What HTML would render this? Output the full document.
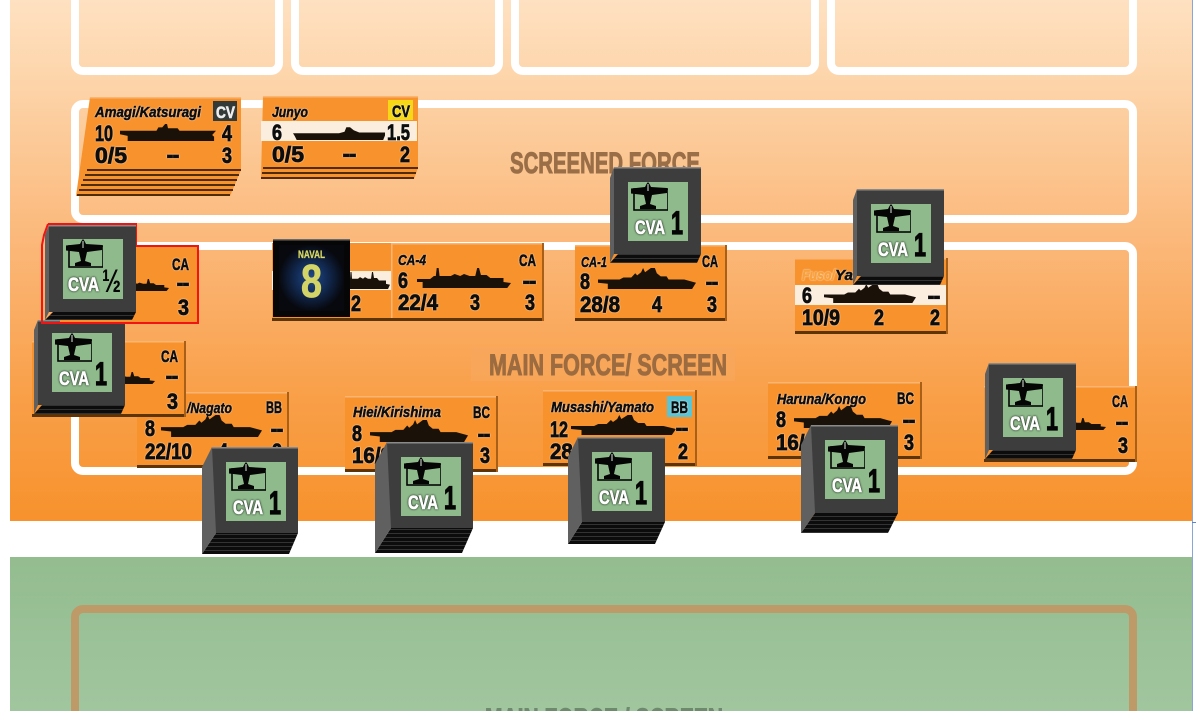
<!DOCTYPE html>
<html lang="en">
<head>
<meta charset="utf-8">
<title>Force Display</title>
<style>
html,body{margin:0;padding:0;background:#fff;width:1196px;height:711px;overflow:hidden}
svg{display:block}
text{font-family:"Liberation Sans",sans-serif;font-weight:bold}
.n,.c,.d,.t{fill:#0d0d0d;stroke:#0d0d0d;filter:drop-shadow(0 0 .7px rgba(255,255,255,.95))}
.n{font-size:22px;stroke-width:.8px}
.c{font-size:17px;stroke-width:.6px}
.d{font-size:18px;stroke-width:1.300px}
.t{font-size:15px;font-style:italic;stroke-width:.5px}
.h{font-size:30px;fill:#9a6f48;stroke:#9a6f48;stroke-width:1px}
.cva{font-size:19px;fill:#fff;stroke:#fff;stroke-width:.6px;filter:drop-shadow(0 0 1px #000)}
.one{font-size:32px;fill:#050505;stroke:#050505;stroke-width:1.200px}
</style>
</head>
<body>
<svg width="1196" height="711" viewBox="0 0 1196 711" xmlns="http://www.w3.org/2000/svg">
<defs>
<linearGradient id="og" x1="0" y1="0" x2="0" y2="1">
<stop offset="0" stop-color="#fee1c1"/><stop offset=".15" stop-color="#fdd5ab"/><stop offset=".46" stop-color="#fbb87a"/><stop offset=".75" stop-color="#f9a04a"/><stop offset="1" stop-color="#f7922d"/>
</linearGradient>
<linearGradient id="gg" x1="0" y1="0" x2="0" y2="1">
<stop offset="0" stop-color="#93bc8f"/><stop offset="1" stop-color="#a1c69f"/>
</linearGradient>
<radialGradient id="ng"><stop offset="0" stop-color="#1f4a8a"/><stop offset=".5" stop-color="#122a52"/><stop offset="1" stop-color="#07090f"/></radialGradient>
<pattern id="st" width="4" height="4" patternUnits="userSpaceOnUse"><rect width="4" height="4" fill="#0c0c0c"/><rect y="0" width="4" height="1" fill="#333"/></pattern>
<symbol id="cv" viewBox="0 0 100 20" preserveAspectRatio="none"><path fill="#1a1208" d="M0 8H38L40 4H44L47 0H49L50 5H60L62 8H100L96 13L98 15V20H8V14L0 12Z"/></symbol>
<symbol id="cvb" viewBox="0 0 100 20" preserveAspectRatio="none"><path fill="#1a1208" d="M0 11H50L56 9L58 3H62L66 7L72 10H100V14L98 20H4L2 15Z"/></symbol>
<symbol id="bb" viewBox="0 0 100 20" preserveAspectRatio="none"><path fill="#1a1208" d="M0 11H22L26 9H34L38 5L40 7L44 4L46 0L48 4L54 0H58L60 5L64 8H70L72 11H88L100 14L96 20H10V15L0 14Z"/></symbol>
<symbol id="ca" viewBox="0 0 100 20" preserveAspectRatio="none"><path fill="#1a1208" d="M0 11H14L18 8H20L21 0L23 0L24 8H36L40 6L46 8L50 6L56 8H62L64 0H66L68 7H74L78 10H92V14L100 15L96 20H6V14L0 14Z"/></symbol>
<symbol id="plane" viewBox="0 0 40 30" preserveAspectRatio="none">
<rect x="6" y="7" width="34" height="21" fill="none" stroke="#050505" stroke-width="1.600"/>
<path fill="#050505" d="M3 6.500L17 5L18.500 2L20 0L21.500 2L23 5L39 6V11L24 13L22 22L28 24V27H12V24L18 22L16 13L3 11.500Z"/>
<path fill="#dfe8de" d="M19.500 2h1v7h-1z"/>
</symbol>
</defs>

<rect x="10" y="0" width="1182" height="521" fill="url(#og)"/>
<rect x="10" y="557" width="1182" height="154" fill="url(#gg)"/>
<rect x="1192" y="0" width="1" height="711" fill="#8aa6d8"/>
<rect x="1192" y="522" width="4" height="1" fill="#5c84cc"/>

<g fill="none" stroke="#fff" stroke-width="8">
<path d="M75 0V63a8 8 0 0 0 8 8H271a8 8 0 0 0 8-8V0"/>
<path d="M295 0V63a8 8 0 0 0 8 8H491a8 8 0 0 0 8-8V0"/>
<path d="M515 0V63a8 8 0 0 0 8 8H807a8 8 0 0 0 8-8V0"/>
<path d="M831 0V63a8 8 0 0 0 8 8H1125a8 8 0 0 0 8-8V0"/>
<rect x="75" y="104" width="1058" height="115" rx="8"/>
<rect x="75" y="246" width="1058" height="225" rx="8"/>
</g>
<path d="M75 711V617a8 8 0 0 1 8-8H1125a8 8 0 0 1 8 8V711" fill="none" stroke="#bd9a68" stroke-width="8"/>

<text class="h" x="510" y="173" textLength="190" lengthAdjust="spacingAndGlyphs">SCREENED FORCE</text>
<rect x="471" y="347" width="264" height="34" fill="#f8a65c" opacity=".7"/>
<text class="h" x="489" y="375" textLength="238" lengthAdjust="spacingAndGlyphs" style="fill:#9c6c40;stroke:#9c6c40">MAIN FORCE/ SCREEN</text>
<svg x="470" y="700" width="270" height="11" viewBox="470 700 270 11" overflow="hidden">
<text class="h" x="485" y="729" textLength="238" lengthAdjust="spacingAndGlyphs" style="fill:#6d8a6c;stroke:#6d8a6c">MAIN FORCE / SCREEN</text>
</svg>

<!-- Amagi stack -->
<polygon points="90,97 241,97 241,170 230,196 76,196" fill="#f7922d"/>
<g stroke="#4f2c08" stroke-width="2">
<line x1="87" y1="170" x2="241" y2="170"/><line x1="85" y1="175" x2="239" y2="175"/><line x1="83" y1="180" x2="237" y2="180"/><line x1="81" y1="185" x2="235" y2="185"/><line x1="79" y1="190" x2="233" y2="190"/><line x1="77" y1="195" x2="230" y2="195"/>
</g>
<rect x="90" y="97" width="151" height="1.500" fill="#fbb573"/>
<rect x="213" y="101" width="24" height="20" fill="#333a38"/>
<text class="t" x="95" y="117" textLength="106" lengthAdjust="spacingAndGlyphs">Amagi/Katsuragi</text>
<text class="c" x="216" y="118" textLength="19" lengthAdjust="spacingAndGlyphs" style="fill:#eee;stroke:#eee;filter:none">CV</text>
<text class="n" x="95" y="141" textLength="18" lengthAdjust="spacingAndGlyphs">10</text>
<use href="#cv" x="120" y="124" width="96" height="17"/>
<text class="n" x="222" y="141" textLength="10" lengthAdjust="spacingAndGlyphs">4</text>
<text class="n" x="95" y="163" textLength="32" lengthAdjust="spacingAndGlyphs">0/5</text>
<text class="d" x="167" y="161" textLength="12" lengthAdjust="spacingAndGlyphs">--</text>
<text class="n" x="222" y="163" textLength="10" lengthAdjust="spacingAndGlyphs">3</text>

<!-- Junyo stack -->
<polygon points="263,96 418,96 418,168 414,179 261,179" fill="#f7922d"/>
<g stroke="#4f2c08" stroke-width="2">
<line x1="263" y1="168" x2="418" y2="168"/><line x1="262" y1="173" x2="416" y2="173"/><line x1="261" y1="178" x2="414" y2="178"/>
</g>
<rect x="263" y="96" width="155" height="1.500" fill="#fbb573"/>
<rect x="261" y="121" width="156" height="20" fill="#fbeedf"/>
<rect x="388" y="100" width="25" height="20" fill="#f7d716"/>
<text class="t" x="272" y="117" textLength="36" lengthAdjust="spacingAndGlyphs">Junyo</text>
<text class="c" x="392" y="117" textLength="18" lengthAdjust="spacingAndGlyphs">CV</text>
<text class="n" x="272" y="140" textLength="10" lengthAdjust="spacingAndGlyphs">6</text>
<use href="#cvb" x="293" y="125" width="92" height="15"/>
<text class="n" x="387" y="140" textLength="23" lengthAdjust="spacingAndGlyphs">1.5</text>
<text class="n" x="272" y="162" textLength="32" lengthAdjust="spacingAndGlyphs">0/5</text>
<text class="d" x="343" y="160" textLength="13" lengthAdjust="spacingAndGlyphs">--</text>
<text class="n" x="400" y="162" textLength="10" lengthAdjust="spacingAndGlyphs">2</text>

<!-- CA behind Naval -->
<rect x="272" y="243" width="119" height="78" fill="#f7922d"/>
<rect x="272" y="271" width="119" height="19" fill="#fbeedf"/>
<rect x="272" y="318" width="119" height="3" fill="#5c3409"/>
<use href="#ca" x="340" y="272" width="50" height="17"/>
<text class="n" x="351" y="311" textLength="10" lengthAdjust="spacingAndGlyphs">2</text>

<!-- CA-4 -->
<rect x="391" y="243" width="153" height="78" fill="#f7922d"/>
<rect x="391" y="243" width="153" height="1.500" fill="#fbb573"/><rect x="391" y="243" width="1.500" height="78" fill="#fbb573"/>
<rect x="391" y="318" width="153" height="3" fill="#5c3409"/><rect x="542" y="243" width="2" height="78" fill="#a85f17"/>
<text class="t" x="398" y="265" textLength="28" lengthAdjust="spacingAndGlyphs">CA-4</text>
<text class="c" x="519" y="266" textLength="17" lengthAdjust="spacingAndGlyphs">CA</text>
<text class="n" x="398" y="288" textLength="10" lengthAdjust="spacingAndGlyphs">6</text>
<use href="#ca" x="417" y="268" width="94" height="20"/>
<text class="d" x="523" y="287" textLength="13" lengthAdjust="spacingAndGlyphs">--</text>
<text class="n" x="398" y="310" textLength="40" lengthAdjust="spacingAndGlyphs">22/4</text>
<text class="n" x="470" y="310" textLength="10" lengthAdjust="spacingAndGlyphs">3</text>
<text class="n" x="525" y="310" textLength="10" lengthAdjust="spacingAndGlyphs">3</text>

<!-- CA-1 -->
<rect x="575" y="245" width="152" height="76" fill="#f7922d"/>
<rect x="575" y="245" width="152" height="1.500" fill="#fbb573"/>
<rect x="575" y="318" width="152" height="3" fill="#5c3409"/><rect x="725" y="245" width="2" height="76" fill="#a85f17"/>
<text class="t" x="581" y="267" textLength="26" lengthAdjust="spacingAndGlyphs">CA-1</text>
<text class="c" x="702" y="267" textLength="16" lengthAdjust="spacingAndGlyphs">CA</text>
<text class="n" x="580" y="289" textLength="10" lengthAdjust="spacingAndGlyphs">8</text>
<use href="#bb" x="598" y="268" width="98" height="21"/>
<text class="d" x="706" y="288" textLength="12" lengthAdjust="spacingAndGlyphs">--</text>
<text class="n" x="580" y="312" textLength="40" lengthAdjust="spacingAndGlyphs">28/8</text>
<text class="n" x="652" y="312" textLength="10" lengthAdjust="spacingAndGlyphs">4</text>
<text class="n" x="707" y="312" textLength="10" lengthAdjust="spacingAndGlyphs">3</text>

<!-- Fuso -->
<rect x="795" y="258" width="153" height="76" fill="#f7922d"/>
<rect x="795" y="258" width="153" height="1.500" fill="#fbb573"/>
<rect x="795" y="285" width="153" height="20" fill="#fbeedf"/>
<rect x="795" y="331" width="153" height="3" fill="#5c3409"/><rect x="946" y="258" width="2" height="76" fill="#a85f17"/>
<text class="t" x="802" y="280" textLength="33" lengthAdjust="spacingAndGlyphs" style="fill:#f8a03c;stroke:#f8a03c">Fuso/</text>
<text class="t" x="835" y="280" textLength="18" lengthAdjust="spacingAndGlyphs">Ya</text>
<text class="n" x="802" y="303" textLength="10" lengthAdjust="spacingAndGlyphs">6</text>
<use href="#bb" x="824" y="284" width="92" height="19"/>
<text class="d" x="928" y="302" textLength="12" lengthAdjust="spacingAndGlyphs">--</text>
<text class="n" x="802" y="325" textLength="38" lengthAdjust="spacingAndGlyphs">10/9</text>
<text class="n" x="874" y="325" textLength="10" lengthAdjust="spacingAndGlyphs">2</text>
<text class="n" x="930" y="325" textLength="10" lengthAdjust="spacingAndGlyphs">2</text>

<!-- Nagato -->
<rect x="137" y="392" width="152" height="76" fill="#f7922d"/>
<rect x="137" y="392" width="152" height="1.500" fill="#fbb573"/>
<rect x="137" y="465" width="152" height="3" fill="#5c3409"/><rect x="287" y="392" width="2" height="76" fill="#a85f17"/>
<text class="t" x="187" y="413" textLength="45" lengthAdjust="spacingAndGlyphs">/Nagato</text>
<text class="c" x="266" y="413" textLength="16" lengthAdjust="spacingAndGlyphs">BB</text>
<text class="n" x="145" y="436" textLength="10" lengthAdjust="spacingAndGlyphs">8</text>
<use href="#bb" x="161" y="415" width="101" height="22"/>
<text class="d" x="271" y="435" textLength="12" lengthAdjust="spacingAndGlyphs">--</text>
<text class="n" x="145" y="459" textLength="47" lengthAdjust="spacingAndGlyphs">22/10</text>
<text class="n" x="218" y="459" textLength="10" lengthAdjust="spacingAndGlyphs">4</text>
<text class="n" x="272" y="459" textLength="10" lengthAdjust="spacingAndGlyphs">2</text>

<!-- Hiei -->
<rect x="345" y="396" width="153" height="76" fill="#f7922d"/>
<rect x="345" y="396" width="153" height="1.500" fill="#fbb573"/>
<rect x="345" y="469" width="153" height="3" fill="#5c3409"/><rect x="496" y="396" width="2" height="76" fill="#a85f17"/>
<text class="t" x="353" y="417" textLength="88" lengthAdjust="spacingAndGlyphs">Hiei/Kirishima</text>
<text class="c" x="473" y="418" textLength="17" lengthAdjust="spacingAndGlyphs">BC</text>
<text class="n" x="352" y="441" textLength="10" lengthAdjust="spacingAndGlyphs">8</text>
<use href="#bb" x="370" y="420" width="98" height="22"/>
<text class="d" x="478" y="440" textLength="12" lengthAdjust="spacingAndGlyphs">--</text>
<text class="n" x="352" y="463" textLength="40" lengthAdjust="spacingAndGlyphs">16/9</text>
<text class="n" x="480" y="463" textLength="10" lengthAdjust="spacingAndGlyphs">3</text>

<!-- Musashi -->
<rect x="543" y="390" width="154" height="76" fill="#f7922d"/>
<rect x="543" y="390" width="154" height="1.500" fill="#fbb573"/>
<rect x="543" y="463" width="154" height="3" fill="#5c3409"/><rect x="695" y="390" width="2" height="76" fill="#a85f17"/>
<rect x="667" y="396" width="25" height="21" fill="#5bc4d4"/>
<text class="t" x="551" y="412" textLength="103" lengthAdjust="spacingAndGlyphs">Musashi/Yamato</text>
<text class="c" x="671" y="413" textLength="17" lengthAdjust="spacingAndGlyphs">BB</text>
<text class="n" x="550" y="437" textLength="18" lengthAdjust="spacingAndGlyphs">12</text>
<use href="#bb" x="571" y="415" width="105" height="20"/>
<text class="d" x="676" y="434" textLength="12" lengthAdjust="spacingAndGlyphs">--</text>
<text class="n" x="550" y="459" textLength="40" lengthAdjust="spacingAndGlyphs">28/8</text>
<text class="n" x="678" y="459" textLength="10" lengthAdjust="spacingAndGlyphs">2</text>

<!-- Haruna -->
<rect x="768" y="382" width="154" height="77" fill="#f7922d"/>
<rect x="768" y="382" width="154" height="1.500" fill="#fbb573"/>
<rect x="768" y="456" width="154" height="3" fill="#5c3409"/><rect x="920" y="382" width="2" height="77" fill="#a85f17"/>
<text class="t" x="777" y="404" textLength="89" lengthAdjust="spacingAndGlyphs">Haruna/Kongo</text>
<text class="c" x="897" y="404" textLength="17" lengthAdjust="spacingAndGlyphs">BC</text>
<text class="n" x="776" y="427" textLength="10" lengthAdjust="spacingAndGlyphs">8</text>
<use href="#bb" x="794" y="406" width="98" height="22"/>
<text class="d" x="903" y="426" textLength="12" lengthAdjust="spacingAndGlyphs">--</text>
<text class="n" x="776" y="450" textLength="40" lengthAdjust="spacingAndGlyphs">16/9</text>
<text class="n" x="904" y="450" textLength="10" lengthAdjust="spacingAndGlyphs">3</text>

<!-- Right CA -->
<rect x="984" y="386" width="153" height="76" fill="#f7922d"/>
<rect x="984" y="386" width="153" height="1.500" fill="#fbb573"/>
<rect x="984" y="459" width="153" height="3" fill="#5c3409"/><rect x="1135" y="386" width="2" height="76" fill="#a85f17"/>
<use href="#ca" x="1040" y="418" width="66" height="12"/>
<text class="c" x="1112" y="407" textLength="16" lengthAdjust="spacingAndGlyphs">CA</text>
<text class="d" x="1116" y="428" textLength="12" lengthAdjust="spacingAndGlyphs">--</text>
<text class="n" x="1118" y="453" textLength="10" lengthAdjust="spacingAndGlyphs">3</text>

<!-- Left CA 2 -->
<rect x="32" y="341" width="154" height="76" fill="#f7922d"/>
<rect x="32" y="341" width="154" height="1.500" fill="#fbb573"/>
<rect x="32" y="414" width="154" height="3" fill="#5c3409"/><rect x="184" y="341" width="2" height="76" fill="#a85f17"/>
<use href="#ca" x="90" y="372" width="65" height="12"/>
<text class="c" x="161" y="362" textLength="17" lengthAdjust="spacingAndGlyphs">CA</text>
<text class="d" x="166" y="382" textLength="12" lengthAdjust="spacingAndGlyphs">--</text>
<text class="n" x="167" y="409" textLength="11" lengthAdjust="spacingAndGlyphs">3</text>

<!-- CVA left 2 (under red) -->
<g transform="translate(52,333)">
<polygon points="-10,72 73,72 69,81 -18,81" fill="url(#st)"/>
<rect x="-14" y="-13" width="87" height="85" fill="#3d3d3d"/>
<rect x="-14" y="-13" width="87" height="1.500" fill="#8a8a8a"/>
<polygon points="-14,-13 -18,-3 -18,81 -14,72" fill="#606060"/>
<rect x="0" y="0" width="60" height="59" fill="#8fbb8c"/>
<use href="#plane" x="0" y="0" width="40" height="30"/>
<text class="cva" x="7" y="52" textLength="30" lengthAdjust="spacingAndGlyphs">CVA</text>
<text class="one" x="43" y="52" textLength="12" lengthAdjust="spacingAndGlyphs">1</text>
</g>

<!-- Red CA + CVA half -->
<rect x="60" y="246" width="138" height="77" fill="#f7922d"/>
<use href="#ca" x="110" y="279" width="59" height="12"/>
<text class="c" x="172" y="270" textLength="17" lengthAdjust="spacingAndGlyphs">CA</text>
<text class="d" x="177" y="289" textLength="12" lengthAdjust="spacingAndGlyphs">--</text>
<text class="n" x="178" y="315" textLength="11" lengthAdjust="spacingAndGlyphs">3</text>
<polyline points="48,224 136,224 136,246 198,246 198,323 42,323 42,245 44,235 48,224" fill="none" stroke="#f01414" stroke-width="2"/>
<g transform="translate(63,239)">
<polygon points="-10,73 73,73 69,81 -18,81" fill="url(#st)"/>
<rect x="-14" y="-14" width="87" height="87" fill="#3d3d3d"/>
<rect x="-14" y="-14" width="87" height="1.500" fill="#8a8a8a"/>
<polygon points="-14,-14 -18,-4 -18,81 -14,73" fill="#606060"/>
<rect x="0" y="0" width="60" height="60" fill="#8fbb8c"/>
<use href="#plane" x="0" y="0" width="40" height="30"/>
<text class="cva" x="5" y="52" textLength="31" lengthAdjust="spacingAndGlyphs">CVA</text>
<text x="39" y="53" textLength="19" lengthAdjust="spacingAndGlyphs" style="font-size:32px;fill:#050505">½</text>
</g>

<!-- Naval 8 -->
<rect x="273" y="239" width="77" height="78" fill="#060606"/>
<rect x="273" y="239" width="77" height="1.500" fill="#6a6a6a"/>
<rect x="279" y="245" width="65" height="66" fill="url(#ng)"/>
<text x="298" y="258" textLength="27" lengthAdjust="spacingAndGlyphs" style="font-size:11px;fill:#d8d862;stroke:#d8d862;stroke-width:.3px">NAVAL</text>
<text x="301" y="297" textLength="21" lengthAdjust="spacingAndGlyphs" style="font-size:46px;fill:#d3d468;stroke:#d3d468;stroke-width:.8px">8</text>

<!-- CVA f top centre -->
<g transform="translate(628,182)">
<polygon points="-10,72 73,72 69,81 -18,81" fill="url(#st)"/>
<rect x="-14" y="-15" width="87" height="87" fill="#3d3d3d"/>
<rect x="-14" y="-15" width="87" height="1.500" fill="#8a8a8a"/>
<polygon points="-14,-15 -18,-4 -18,81 -14,72" fill="#606060"/>
<rect x="0" y="0" width="60" height="59" fill="#8fbb8c"/>
<use href="#plane" x="0" y="0" width="40" height="30"/>
<text class="cva" x="7" y="52" textLength="30" lengthAdjust="spacingAndGlyphs">CVA</text>
<text class="one" x="43" y="52" textLength="12" lengthAdjust="spacingAndGlyphs">1</text>
</g>

<!-- CVA g Fuso -->
<g transform="translate(871,204)">
<polygon points="-10,72 73,72 69,81 -18,81" fill="url(#st)"/>
<rect x="-14" y="-15" width="87" height="87" fill="#3d3d3d"/>
<rect x="-14" y="-15" width="87" height="1.500" fill="#8a8a8a"/>
<polygon points="-14,-15 -18,-4 -18,81 -14,72" fill="#606060"/>
<rect x="0" y="0" width="60" height="59" fill="#8fbb8c"/>
<use href="#plane" x="0" y="0" width="40" height="30"/>
<text class="cva" x="7" y="52" textLength="30" lengthAdjust="spacingAndGlyphs">CVA</text>
<text class="one" x="43" y="52" textLength="12" lengthAdjust="spacingAndGlyphs">1</text>
</g>

<!-- CVA i right -->
<g transform="translate(1003,378)">
<polygon points="-10,72 73,72 69,81 -18,81" fill="url(#st)"/>
<rect x="-14" y="-15" width="87" height="87" fill="#3d3d3d"/>
<rect x="-14" y="-15" width="87" height="1.500" fill="#8a8a8a"/>
<polygon points="-14,-15 -18,-4 -18,81 -14,72" fill="#606060"/>
<rect x="0" y="0" width="60" height="59" fill="#8fbb8c"/>
<use href="#plane" x="0" y="0" width="40" height="30"/>
<text class="cva" x="7" y="52" textLength="30" lengthAdjust="spacingAndGlyphs">CVA</text>
<text class="one" x="43" y="52" textLength="12" lengthAdjust="spacingAndGlyphs">1</text>
</g>

<!-- CVA c Nagato -->
<g transform="translate(226,462)">
<polygon points="-10,71 72,71 63,92 -24,92" fill="url(#st)"/>
<rect x="-14" y="-15" width="86" height="86" fill="#3d3d3d"/>
<rect x="-14" y="-15" width="86" height="1.500" fill="#8a8a8a"/>
<polygon points="-14,-15 -24,5 -24,92 -10,71" fill="#606060"/>
<rect x="0" y="0" width="60" height="59" fill="#8fbb8c"/>
<use href="#plane" x="0" y="0" width="40" height="30"/>
<text class="cva" x="7" y="52" textLength="30" lengthAdjust="spacingAndGlyphs">CVA</text>
<text class="one" x="43" y="52" textLength="12" lengthAdjust="spacingAndGlyphs">1</text>
</g>

<!-- CVA d Hiei -->
<g transform="translate(401,457)">
<polygon points="-10,71 72,71 61,96 -26,96" fill="url(#st)"/>
<rect x="-14" y="-15" width="86" height="86" fill="#3d3d3d"/>
<rect x="-14" y="-15" width="86" height="1.500" fill="#8a8a8a"/>
<polygon points="-14,-15 -26,7 -26,96 -10,71" fill="#606060"/>
<rect x="0" y="0" width="60" height="59" fill="#8fbb8c"/>
<use href="#plane" x="0" y="0" width="40" height="30"/>
<text class="cva" x="7" y="52" textLength="30" lengthAdjust="spacingAndGlyphs">CVA</text>
<text class="one" x="43" y="52" textLength="12" lengthAdjust="spacingAndGlyphs">1</text>
</g>

<!-- CVA e Musashi -->
<g transform="translate(592,452)">
<polygon points="-10,70 73,70 63,92 -24,92" fill="url(#st)"/>
<rect x="-14" y="-15" width="87" height="85" fill="#3d3d3d"/>
<rect x="-14" y="-15" width="87" height="1.500" fill="#8a8a8a"/>
<polygon points="-14,-15 -24,5 -24,92 -10,70" fill="#606060"/>
<rect x="0" y="0" width="60" height="59" fill="#8fbb8c"/>
<use href="#plane" x="0" y="0" width="40" height="30"/>
<text class="cva" x="7" y="52" textLength="30" lengthAdjust="spacingAndGlyphs">CVA</text>
<text class="one" x="43" y="52" textLength="12" lengthAdjust="spacingAndGlyphs">1</text>
</g>

<!-- CVA h Haruna -->
<g transform="translate(825,440)">
<polygon points="-10,73 73,73 63,93 -24,93" fill="url(#st)"/>
<rect x="-14" y="-15" width="87" height="88" fill="#3d3d3d"/>
<rect x="-14" y="-15" width="87" height="1.500" fill="#8a8a8a"/>
<polygon points="-14,-15 -24,5 -24,93 -10,73" fill="#606060"/>
<rect x="0" y="0" width="60" height="59" fill="#8fbb8c"/>
<use href="#plane" x="0" y="0" width="40" height="30"/>
<text class="cva" x="7" y="52" textLength="30" lengthAdjust="spacingAndGlyphs">CVA</text>
<text class="one" x="43" y="52" textLength="12" lengthAdjust="spacingAndGlyphs">1</text>
</g>
</svg>
</body>
</html>
